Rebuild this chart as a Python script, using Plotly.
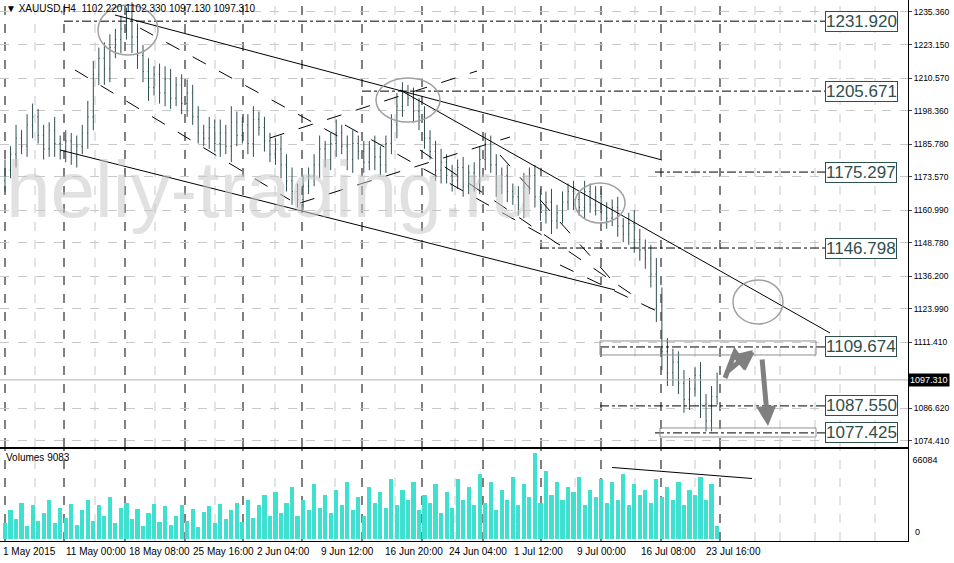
import plotly.graph_objects as go

# ---------------- data ----------------
closes = [1176,1182,1188,1185,1193,1196, 1189,1184,1191,1186,1183,
          1187,1181,1185,1190,1196, 1212,1218,1214,1222,1225,
          1229,1233,1226,1219,1213, 1207,1212,1205,1210,1203,
          1208,1201,1205,1196,1190, 1188,1192,1186,1190,1185,
          1194,1189,1193,1186,1195, 1192,1187,1182,1184,1178,
          1172,1168,1165,1170,1174, 1178,1184,1180,1186,1190,
          1185,1180,1186,1183,1179, 1184,1181,1178,1186,1193,
          1200,1205,1203,1198,1196, 1188,1183,1176,1179,1174,
          1172,1177,1170,1175,1172, 1180,1186,1178,1170,1174,
          1168,1166,1163,1170,1174, 1166,1160,1164,1157,1160,
          1164,1168,1165,1162,1168, 1163,1166,1160,1158,1162,
          1155,1152,1156,1150,1146, 1143,1137,1125,1108,1100,
          1104,1096,1090,1094,1099, 1088,1082,1091,1097]
wicks = [4,3,5,3,4,5, 3,4,3,5,3, 4,3,4,3,6, 5,4,6,5,4,
         5,4,6,5,4, 5,3,4,5,4, 3,4,5,3,4, 3,4,3,5,3,
         6,4,3,4,5, 3,4,3,4,5, 4,5,3,4,3, 4,5,3,4,5,
         3,4,5,3,4, 3,5,4,3,4, 5,4,3,4,5, 4,3,4,5,3,
         4,3,4,3,4, 5,4,3,4,3, 4,3,4,5,3, 4,3,4,5,3,
         4,3,4,3,4, 3,4,3,4,3, 4,3,4,5,4, 4,5,6,7,5,
         5,4,5,4,3, 5,4,4,3]
volumes = [12000,22000,15000,28000,10000,26000, 14000,20000,30000,12000,24000,
           16000,27000,11000,22000,30000, 14000,26000,18000,32000,12000,
           24000,28000,15000,23000,10000, 20000,27000,13000,25000,11000,
           18000,26000,14000,23000,9000, 21000,25000,12000,27000,15000,
           22000,28000,13000,30000,16000, 26000,34000,18000,36000,20000,
           28000,40000,18000,30000,22000, 42000,24000,34000,20000,38000,
           26000,44000,22000,32000,18000, 40000,28000,36000,24000,46000,
           26000,38000,30000,44000,22000, 34000,28000,42000,20000,36000,
           24000,46000,30000,40000,26000, 50000,28000,44000,22000,38000,
           30000,48000,26000,42000,32000, 66000,28000,52000,34000,44000,
           30000,40000,36000,48000,26000, 38000,32000,46000,28000,44000,
           30000,50000,26000,42000,34000, 38000,28000,46000,32000,40000,
           30000,44000,26000,38000,34000, 48000,30000,42000,10000]
level_prices = [1231.920, 1205.671, 1175.297, 1146.798, 1109.674, 1087.550, 1077.425]
level_start_px = [64, 362, 655, 540, 600, 600, 655]
price_ticks = [1235.360,1223.150,1210.570,1198.360,1185.780,1173.570,1160.990,
               1148.780,1136.200,1123.990,1111.410,1086.620,1074.410]
date_labels = ["1 May 2015","11 May 00:00","18 May 08:00","25 May 16:00","2 Jun 04:00",
               "9 Jun 12:00","16 Jun 20:00","24 Jun 04:00","1 Jul 12:00","9 Jul 00:00",
               "16 Jul 08:00","23 Jul 16:00"]
date_label_px = [1, 64, 127, 191, 255, 319, 383, 447, 512, 575, 639, 704]
last_price = 1097.310

# ---------------- helpers (pixel -> chart coordinates) ----------------
def X(px):
    return (px - 5) / 5.52
def P(py):
    return 1239.86 - 0.3752 * py

n = len(closes)
idx = list(range(n))
opens = [1172] + closes[:-1]
highs = [max(o, c) + w for o, c, w in zip(opens, closes, wicks)]
lows = [min(o, c) - w for o, c, w in zip(opens, closes, wicks)]

BAR = "#2f4f4f"
F = "Liberation Sans"
fig = go.Figure()
fig.add_trace(go.Ohlc(x=idx, open=opens, high=highs, low=lows, close=closes,
                      increasing=dict(line=dict(color=BAR, width=1)),
                      decreasing=dict(line=dict(color=BAR, width=1)),
                      tickwidth=0.15, xaxis="x", yaxis="y", showlegend=False, hoverinfo="skip"))
fig.add_trace(go.Bar(x=idx, y=volumes, marker=dict(color="#40e0d0", line=dict(width=0)),
                     width=0.75, xaxis="x2", yaxis="y2", showlegend=False, hoverinfo="skip"))

shapes = []
for px in range(35, 908, 60):
    for yr in ["y", "y2"]:
        shapes.append(dict(type="line", xref="x", yref=yr + " domain", x0=X(px), x1=X(px), y0=0, y1=1,
                           line=dict(color="#c8c8c8", width=1, dash="dash"), layer="below"))
for px in [5, 64, 125, 185, 243, 302, 362, 422, 483, 541, 601, 661, 720]:
    for yr in ["y", "y2"]:
        shapes.append(dict(type="line", xref="x", yref=yr + " domain", x0=X(px), x1=X(px), y0=0, y1=1,
                           line=dict(color="black", width=1, dash="dash"), layer="below"))
for px in [780, 840]:
    for yr in ["y", "y2"]:
        shapes.append(dict(type="line", xref="x", yref=yr + " domain", x0=X(px), x1=X(px), y0=0, y1=1,
                           line=dict(color="#c8c8c8", width=1, dash="dash"), layer="below"))
shapes.append(dict(type="line", xref="x", yref="y", x0=X(0), x1=X(908), y0=last_price, y1=last_price,
                   line=dict(color="#b0b0b0", width=1)))
for p, sx in zip(level_prices, level_start_px):
    shapes.append(dict(type="line", xref="x", yref="y", x0=X(sx), x1=X(825), y0=p, y1=p,
                       line=dict(color="black", width=1, dash="dashdot")))
for (x0, y0, x1, y1) in [(115, 15, 662, 160), (400, 90, 830, 333), (60, 150, 615, 290)]:
    shapes.append(dict(type="line", xref="x", yref="y", x0=X(x0), y0=P(y0), x1=X(x1), y1=P(y1),
                       line=dict(color="black", width=1)))
for (x0, y0, x1, y1) in [(140, 28, 345, 140), (75, 70, 290, 200), (345, 125, 560, 245),
                         (420, 150, 640, 300), (560, 265, 665, 315), (270, 138, 477, 71),
                         (300, 203, 510, 137), (500, 155, 610, 278)]:
    shapes.append(dict(type="line", xref="x", yref="y", x0=X(x0), y0=P(y0), x1=X(x1), y1=P(y1),
                       line=dict(color="black", width=1, dash="longdash")))
for (cx, cy, rx, ry) in [(128, 30, 30, 25), (408, 100, 32, 22), (600, 203, 25, 20), (758, 302, 25, 22)]:
    shapes.append(dict(type="circle", xref="x", yref="y", x0=X(cx - rx), x1=X(cx + rx),
                       y0=P(cy - ry), y1=P(cy + ry), line=dict(color="#a0a0a0", width=1.5)))
for (x0, y0, x1, y1) in [(600, 341, 816, 355), (660, 428, 816, 437)]:
    shapes.append(dict(type="rect", xref="x", yref="y", x0=X(x0), x1=X(x1), y0=P(y0), y1=P(y1),
                       line=dict(color="#909090", width=1)))
shapes.append(dict(type="path", xref="x", yref="y",
                   path="M %f,%f L %f,%f L %f,%f L %f,%f" % (X(725), P(378), X(735), P(352),
                                                             X(745), P(366), X(752), P(352)),
                   line=dict(color="#808080", width=5)))
shapes.append(dict(type="line", xref="x2", yref="y2", x0=X(612), x1=X(752), y0=55000, y1=46500,
                   line=dict(color="black", width=1)))

ann = []
for p in level_prices:
    ann.append(dict(x=X(825), y=p, xref="x", yref="y", text="%.3f" % p, showarrow=False, xanchor="left",
                    font=dict(size=17, color=BAR, family=F),
                    bordercolor=BAR, borderwidth=1, borderpad=0, bgcolor="white"))
ann.append(dict(x=X(753), y=P(350), ax=X(727), ay=P(372), xref="x", yref="y", axref="x", ayref="y",
                text="", showarrow=True, arrowhead=2, arrowsize=0.8, arrowwidth=5, arrowcolor="#808080"))
ann.append(dict(x=X(768), y=P(426), ax=X(762), ay=P(358), xref="x", yref="y", axref="x", ayref="y",
                text="", showarrow=True, arrowhead=2, arrowsize=0.8, arrowwidth=5, arrowcolor="#808080"))
ann.append(dict(x=0.004, y=0.998, xref="paper", yref="paper", yanchor="top", xanchor="left",
                text="▼ XAUUSD,H4  1102.220 1102.330 1097.130 1097.310", showarrow=False,
                font=dict(size=10, color="black", family=F)))
ann.append(dict(x=0.004, y=0.168, xref="paper", yref="paper", yanchor="top", xanchor="left",
                text="Volumes 9083", showarrow=False, font=dict(size=10, color="black", family=F)))
ann.append(dict(x=X(270), y=P(190), xref="x", yref="y", text="heliy-trading.ru", showarrow=False,
                font=dict(size=80, color="rgba(200,200,200,0.55)", family=F)))
ann.append(dict(x=1.0, y=last_price, xref="paper", yref="y", xanchor="left", text="%.3f" % last_price,
                showarrow=False, font=dict(size=9, color="white", family=F),
                bgcolor="black", borderpad=1))
ann.append(dict(x=1.0, y=66084, xref="paper", yref="y2", xanchor="left", yanchor="top", text=" 66084",
                showarrow=False, font=dict(size=9, color="black", family=F)))
ann.append(dict(x=1.0, y=0, xref="paper", yref="y2", xanchor="left", yanchor="bottom", text="  0",
                showarrow=False, font=dict(size=9, color="black", family=F)))
for t, px in zip(date_labels, date_label_px):
    ann.append(dict(x=X(px), y=0, xref="x", yref="paper", yanchor="top", xanchor="left", yshift=-3,
                    text=t, showarrow=False, font=dict(size=10, color="black", family=F)))

xr = [X(0), X(908)]
fig.update_layout(
    width=954, height=563, margin=dict(l=0, r=46, t=0, b=22, autoexpand=False),
    paper_bgcolor="white", plot_bgcolor="white", shapes=shapes, annotations=ann,
    font=dict(family=F, size=10, color="black"),
    xaxis=dict(range=xr, anchor="y", showticklabels=False, showgrid=False, zeroline=False,
               rangeslider=dict(visible=False), showline=True, linecolor="black", mirror=True),
    xaxis2=dict(range=xr, anchor="y2", showgrid=False, zeroline=False, showline=True,
                linecolor="black", mirror=True, showticklabels=False),
    yaxis=dict(domain=[0.1738, 1], range=[P(447), P(0)], side="right", tickvals=price_ticks,
               ticktext=["%.3f" % t for t in price_ticks], showgrid=True, gridcolor="#c8c8c8",
               griddash="dash", zeroline=False, ticks="outside", ticklen=3, showline=True,
               linecolor="black", tickfont=dict(size=8.5, family=F), automargin=False),
    yaxis2=dict(domain=[0, 0.170], range=[-1537, 69158], side="right", showticklabels=False,
                showgrid=False, zeroline=False, showline=True, linecolor="black", mirror=True),
    bargap=0,
)
fig.write_html("out.html", config={"displayModeBar": False},
               post_script="document.body.style.margin='0';document.body.style.overflow='hidden';")
